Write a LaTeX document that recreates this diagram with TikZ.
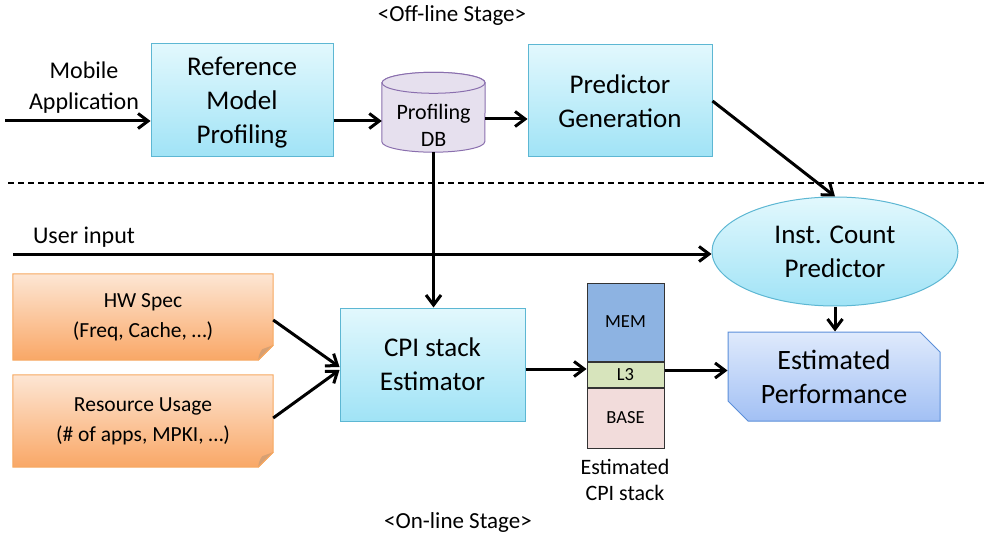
\documentclass[tikz,border=0pt]{standalone}
\usepackage{fontspec}
\setmainfont{Carlito}
\usetikzlibrary{arrows.meta,shapes.geometric,shapes.misc,backgrounds}

\definecolor{cyantop}{HTML}{E2F8FD}
\definecolor{cyanbot}{HTML}{A0E3F6}
\definecolor{cyanline}{HTML}{5DB7D3}
\definecolor{orgtop}{HTML}{FDE6D4}
\definecolor{orgbot}{HTML}{F9A766}
\definecolor{orgline}{HTML}{F6A860}
\definecolor{orgfold}{HTML}{D6A073}
\definecolor{dbfill}{HTML}{E6E0EE}
\definecolor{dbline}{HTML}{8A6FAE}
\definecolor{bluetop}{HTML}{DFEAFC}
\definecolor{bluebot}{HTML}{A2C0F4}
\definecolor{blueline}{HTML}{5B8FD9}
\definecolor{memfill}{HTML}{8DB3E2}
\definecolor{lthree}{HTML}{D7E4BC}
\definecolor{basefill}{HTML}{F2DCDB}

\tikzset{
  bigtxt/.style={font=\fontsize{27}{34}\selectfont, align=center},
  midtxt/.style={font=\fontsize{24}{31}\selectfont, align=center},
  smalltxt/.style={font=\fontsize{21.5}{30}\selectfont, align=center},
  cyanbox/.style={rectangle, draw=cyanline, line width=1pt,
    top color=cyantop, bottom color=cyanbot, bigtxt, inner sep=0pt},
  notetext/.style={rectangle, smalltxt, inner sep=0pt, minimum width=260pt},
  noteshape/.style={draw=orgline, line width=1pt, top color=orgtop, bottom color=orgbot},
  stackpart/.style={rectangle, draw=black!80, line width=1pt,
    minimum width=77pt, font=\fontsize{18.5}{22}\selectfont, inner sep=0pt},
  dbbody/.style={draw=dbline, line width=1pt, fill=dbfill},
  flow/.style={line width=3pt, -{Straight Barb[length=10pt,width=15pt]}},
}

\begin{document}
\begin{tikzpicture}[x=1pt,y=-1pt]
\useasboundingbox (0,0) rectangle (985,540);

% stage titles
\node[font=\fontsize{23}{28}\selectfont] (offtitle) at (452,15) {<Off-line Stage>};
\node[font=\fontsize{23}{28}\selectfont] (ontitle) at (458,522) {<On-line Stage>};

% stage separator
\draw[line width=1.5pt, dash pattern=on 6pt off 4pt] (8,183) coordinate (sepL) -- (985,183) coordinate (sepR);

% off-line stage
\node[midtxt] (mobile) at (84,88) {Mobile\\Application};
\node[cyanbox, minimum width=182pt, minimum height=113pt, text depth=0pt] (ref) at (242,100.5)
  {Reference\\Model\\Profiling};

% profiling database: the node holds the label, the cylinder is drawn behind it
\node[rectangle, minimum width=103pt, minimum height=53pt, inner sep=0pt,
  font=\fontsize{22}{27}\selectfont, align=center] (db) at (433.5,125.5) {Profiling\\DB};
\begin{scope}[on background layer]
  \path[dbbody] ([yshift=16pt]db.north west) -- ([yshift=10.5pt]db.south west)
    arc[start angle=180, end angle=360, x radius=51.5pt, y radius=10.5pt]
    -- ([yshift=16pt]db.north east)
    arc[start angle=0, end angle=180, x radius=51.5pt, y radius=10.5pt] -- cycle;
  \draw[dbbody] ([yshift=16pt]db.north) ellipse [x radius=51.5pt, y radius=10.5pt];
\end{scope}

\node[cyanbox, minimum width=184pt, minimum height=112pt] (pg) at (620,101)
  {Predictor\\Generation};

% on-line stage
\node[midtxt] (user) at (84,237) {User input};
\node[ellipse, draw=cyanline, line width=1pt, top color=cyantop, bottom color=cyanbot,
  minimum width=246pt, minimum height=109pt, inner sep=0pt, bigtxt] (ic) at (835,251.5)
  {Inst. Count\\Predictor};

% input notes with a folded lower right corner
\node[notetext, minimum height=86pt] (hw) at (143,317) {HW Spec\\(Freq, Cache, …)};
\node[notetext, minimum height=92pt] (ru) at (143,421) {Resource Usage\\(\# of apps, MPKI, …)};
\begin{scope}[on background layer]
  \foreach \n in {hw,ru}{
    \path[noteshape] (\n.north west) -- (\n.north east) -- ([yshift=15pt]\n.south east)
      -- ([xshift=-15pt]\n.south east) -- (\n.south west) -- cycle;
    \fill[orgfold] ([yshift=15pt]\n.south east) -- ([xshift=-15pt]\n.south east)
      to[bend left=15] ([xshift=-11pt,yshift=11pt]\n.south east) -- cycle;
    \draw[orgline, line width=1pt] ([yshift=15pt]\n.south east) -- ([xshift=-15pt]\n.south east);
  }
\end{scope}

\node[cyanbox, minimum width=185pt, minimum height=113pt] (cpi) at (432.5,364.5)
  {CPI stack\\Estimator};

% CPI stack bar
\node[stackpart, fill=memfill, minimum height=78pt] (mem) at (625.5,322) {MEM};
\node[stackpart, fill=lthree, minimum height=25pt, anchor=north] (l3) at (mem.south) {L3};
\node[stackpart, fill=basefill, minimum height=60pt, anchor=north] (base) at (l3.south) {BASE};
\node[font=\fontsize{22}{26.5}\selectfont, align=center] (stacklbl) at (625,480)
  {Estimated\\CPI stack};

\node[chamfered rectangle, chamfered rectangle corners={north east,south west},
  chamfered rectangle xsep=10pt, chamfered rectangle ysep=10pt,
  draw=blueline, line width=1pt, top color=bluetop, bottom color=bluebot,
  minimum width=212pt, minimum height=89pt, inner sep=0pt,
  font=\fontsize{28}{34}\selectfont, align=center] (ep) at (834,376.5)
  {Estimated\\Performance};

% connectors
\coordinate (appin) at (5,121);
\coordinate (userin) at (13,254);
\draw[flow] (appin) -- (appin -| ref.west);
\draw[flow] ([yshift=-20.5pt]ref.east) -- ([yshift=-20.5pt]ref.east -| db.west);
\draw[flow] ([yshift=6.5pt]db.east) -- ([yshift=6.5pt]db.east -| pg.west);
\draw[flow] (pg.east) -- (ic.north);
\draw[flow] (db.south) -- (db.south |- cpi.north);
\draw[flow] (userin) -- (userin -| ic.west);
\draw[flow] ([yshift=-3pt]hw.east) -- ([yshift=-2.5pt]cpi.west);
\draw[flow] ([yshift=3pt]ru.east) -- ([yshift=-5.5pt]cpi.west);
\draw[flow] ([yshift=-4.5pt]cpi.east) -- ([yshift=-4.5pt]cpi.east -| mem.west);
\draw[flow] ([yshift=4pt]l3.east) -- ([yshift=4pt]l3.east -| ep.west);
\draw[flow] (ic.south) -- (ic.south |- ep.north);
\end{tikzpicture}
\end{document}
